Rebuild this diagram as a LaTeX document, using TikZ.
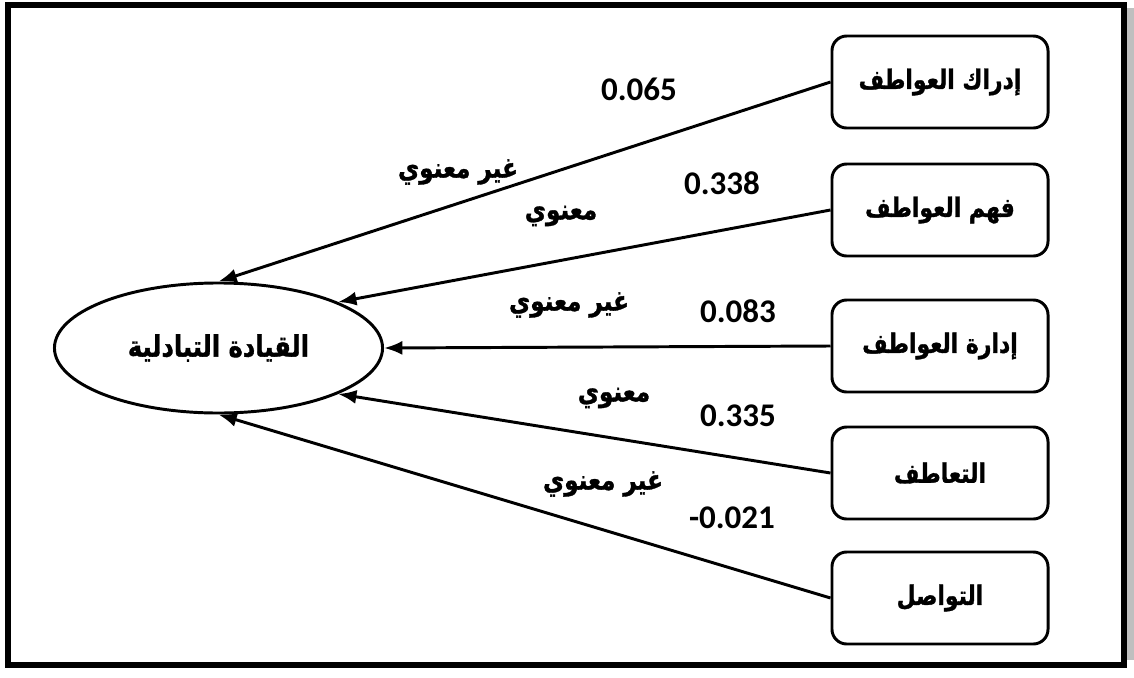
\documentclass[tikz,border=0pt]{standalone}
\usepackage{fontspec}
\setmainfont{DejaVu Sans}
\newfontfamily\arabicfont[Script=Arabic,FakeStretch=0.82,FakeBold=1.2]{DejaVu Sans}
\newfontfamily\numfont{Carlito}
\TeXXeTstate=1
\usetikzlibrary{arrows.meta,shapes.geometric}

\newcommand{\artxt}[1]{{\arabicfont\bfseries\beginR #1\endR}}

\begin{document}
\begin{tikzpicture}[x=0.025cm,y=-0.025cm,
  dim/.style={rectangle,rounded corners=0.37cm,draw,line width=2.1pt,minimum width=5.4cm,minimum height=2.3cm,font=\fontsize{19}{22}\selectfont},
  lead/.style={ellipse,draw,line width=2.1pt,minimum width=8.2cm,minimum height=3.25cm,inner sep=0pt,font=\fontsize{21}{24}\selectfont},
  coef/.style={font=\numfont\bfseries\fontsize{23.5}{26}\selectfont,inner sep=0pt},
  sig/.style={font=\fontsize{20}{23}\selectfont,inner sep=0pt},
  arr/.style={line width=2.1pt,-{Latex[length=13pt,width=10pt]}}]

  \useasboundingbox (0,0) rectangle (1134,678);
  \fill[black!25] (1127,8) rectangle (1134,660);
  \draw[line width=4.3pt] (8,5) rectangle (1124,665);

  \node[lead] (tl) at (218.5,348) {\artxt{القيادة التبادلية}};

  \node[dim] (d1) at (940,82) {\artxt{إدراك العواطف}};
  \node[dim] (d2) at (940,210) {\artxt{فهم العواطف}};
  \node[dim] (d3) at (940,346) {\artxt{إدارة العواطف}};
  \node[dim] (d4) at (940,473) {\artxt{التعاطف}};
  \node[dim] (d5) at (940,598) {\artxt{التواصل}};

  \draw[arr] (d1.west) -- (tl.north);
  \draw[arr] (d2.west) -- (tl.21);
  \draw[arr] (d3.west) -- (tl.east);
  \draw[arr] (d4.west) -- (tl.-21);
  \draw[arr] (d5.west) -- (tl.south);

  \node[coef] (c1) at (639,89) {0.065};
  \node[coef] (c2) at (722,183) {0.338};
  \node[coef] (c3) at (738,311) {0.083};
  \node[coef] (c4) at (738,416) {0.335};
  \node[coef] (c5) at (732,518) {-0.021};

  \node[sig] (s1) at (458,172) {\artxt{غير معنوي}};
  \node[sig] (s2) at (561,216) {\artxt{معنوي}};
  \node[sig] (s3) at (569,305) {\artxt{غير معنوي}};
  \node[sig] (s4) at (614,398) {\artxt{معنوي}};
  \node[sig] (s5) at (603,484) {\artxt{غير معنوي}};
\end{tikzpicture}
\end{document}
